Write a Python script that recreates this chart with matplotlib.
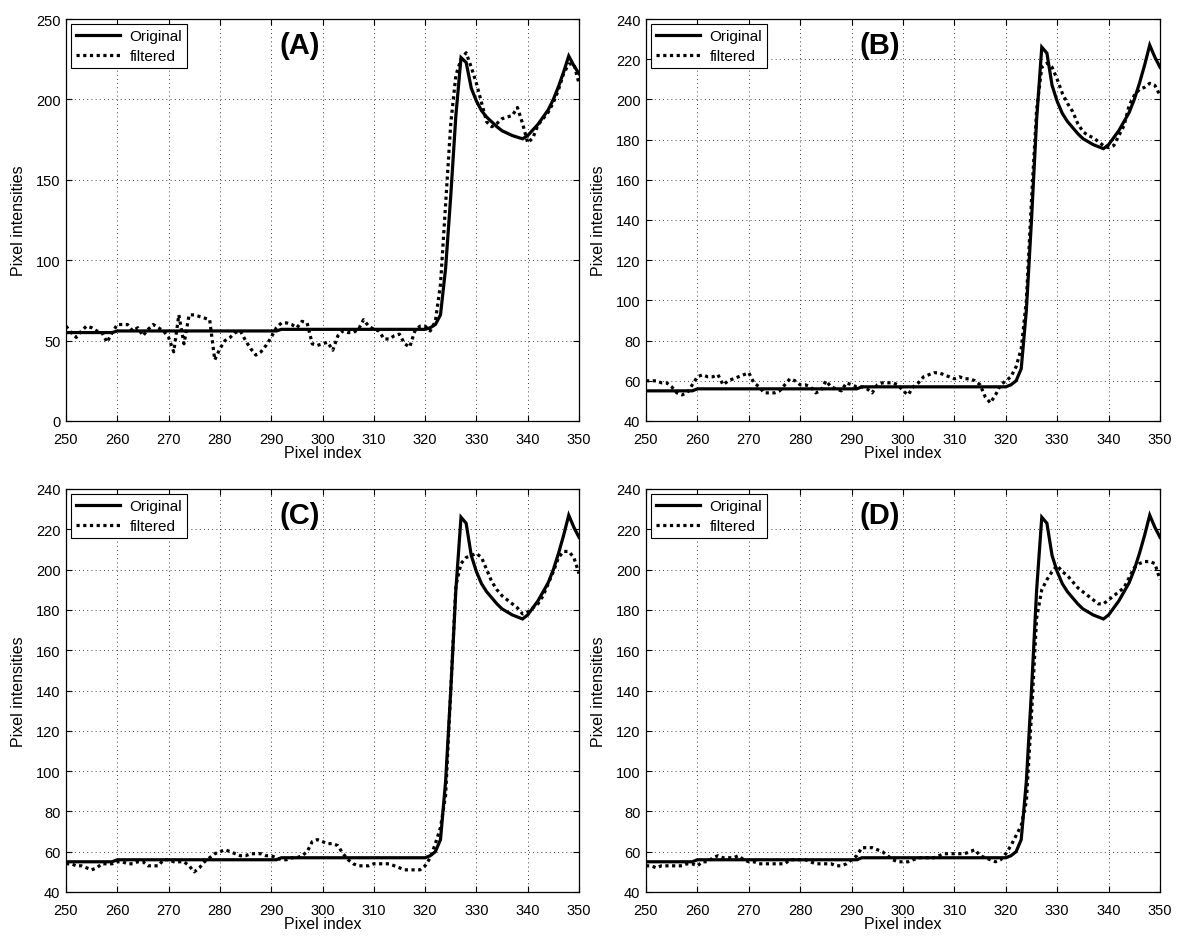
import numpy as np
import matplotlib
matplotlib.use("Agg")
import matplotlib.pyplot as plt

plt.rcParams['font.family'] = ['Liberation Sans', 'DejaVu Sans']

pixel_index = list(range(250, 351))

original = ([55] * 10 + [56] * 32 + [57] * 29 +
            [58, 60, 66, 95, 140, 190, 226, 223, 207, 199, 193, 189, 186, 183,
             180.5, 179, 177.5, 176.5, 175.5, 177.5, 181, 184.5, 189, 193.5,
             200, 208, 217, 227, 221, 216])

filtered_A = [59, 55, 52, 56, 59, 58, 56, 55, 49, 55,
              60, 60, 60, 56, 58, 53, 57, 60, 58, 56,
              52, 43, 66, 48, 66, 66, 65, 64, 63, 38,
              45, 50, 52, 55, 56, 50, 45, 41, 43, 47,
              52, 58, 61, 61, 60, 58, 62, 61, 48, 47,
              48, 49, 44, 53, 56, 55, 55, 57, 63, 59,
              57, 56, 51, 51, 53, 54, 48, 46, 56, 59,
              59, 56, 62, 85, 135, 185, 215, 225, 229, 220,
              210, 198, 186, 183, 185, 188, 189, 190, 195, 185,
              173, 176, 184, 188, 192, 198, 206, 216, 222, 222,
              210]

filtered_B = [60, 60, 60, 59, 59, 57, 54, 53, 54, 58,
              62, 63, 62, 62, 63, 58, 60, 61, 62, 63,
              64, 59, 57, 54, 54, 54, 55, 58, 61, 60,
              58, 58, 57, 54, 55, 60, 57, 56, 55, 59,
              58, 57, 57, 56, 54, 58, 59, 59, 59, 58,
              55, 53, 57, 59, 62, 63, 64, 64, 63, 62,
              61, 62, 61, 61, 60, 58, 52, 49, 53, 58,
              60, 62, 67, 76, 100, 150, 195, 216, 218, 216,
              210, 203, 198, 194, 188, 184, 182, 181, 179, 177,
              176, 177, 182, 187, 197, 202, 205, 206, 208, 207,
              202]

filtered_C = [54, 54, 53, 53, 52, 51, 52, 54, 54, 54,
              55, 55, 54, 54, 55, 55, 53, 53, 53, 56,
              56, 55, 55, 55, 53, 50, 52, 55, 57, 59,
              60, 61, 60, 59, 58, 58, 59, 59, 59, 58,
              58, 57, 56, 56, 57, 57, 58, 60, 65, 66,
              65, 64, 64, 63, 59, 56, 54, 53, 53, 53,
              54, 54, 54, 54, 53, 52, 51, 51, 51, 51,
              53, 57, 64, 72, 88, 140, 192, 203, 206, 207,
              208, 206, 200, 194, 190, 187, 185, 183, 181, 178,
              179, 181, 183, 187, 193, 199, 206, 209, 209, 206,
              198]

filtered_D = [53, 53, 52, 53, 53, 53, 53, 53, 54, 54,
              53, 55, 55, 57, 58, 57, 57, 57, 58, 56,
              55, 55, 54, 54, 54, 54, 54, 54, 56, 56,
              56, 56, 55, 54, 54, 54, 54, 53, 53, 54,
              56, 58, 62, 62, 62, 61, 60, 58, 56, 55,
              55, 55, 56, 57, 57, 57, 57, 58, 59, 59,
              59, 59, 59, 60, 61, 58, 57, 56, 55, 56,
              59, 63, 68, 73, 85, 128, 176, 190, 195, 199,
              202, 199, 197, 194, 191, 189, 187, 185, 183, 183,
              185, 187, 189, 191, 196, 201, 203, 204, 204, 203,
              195]

panel_titles = ['(A)', '(B)', '(C)', '(D)']
filtered_sets = [filtered_A, filtered_B, filtered_C, filtered_D]
y_limits = [(0, 250), (40, 240), (40, 240), (40, 240)]
y_steps = [50, 20, 20, 20]
x_ticks = list(range(250, 351, 10))

W, H = 1182, 937
fig = plt.figure(figsize=(W / 100, H / 100), dpi=100)

# axes boxes in pixels: left, top, right, bottom
boxes = [(66, 20, 579, 422), (646, 20, 1160, 422),
         (66, 490, 579, 893), (646, 490, 1160, 893)]

for i in range(4):
    l, t, r, b = boxes[i]
    ax = fig.add_axes([l / W, 1 - b / H, (r - l) / W, (b - t) / H])
    ax.plot(pixel_index, original, color='black', linewidth=2.3,
            linestyle='-', label='Original', solid_joinstyle='miter')
    ax.plot(pixel_index, filtered_sets[i], color='black', linewidth=2.3,
            linestyle=(0, (1.0, 1.1)), label='filtered')
    ax.set_xlim(250, 350)
    ax.set_ylim(*y_limits[i])
    ax.set_xticks(x_ticks)
    ax.set_yticks(np.arange(y_limits[i][0], y_limits[i][1] + 1, y_steps[i]))
    ax.grid(True, color='black', linestyle=(0, (1, 4)), linewidth=0.6)
    ax.tick_params(direction='in', top=True, right=True, length=4,
                   width=0.8, labelsize=10.5)
    ax.tick_params(axis='x', pad=8)
    ax.tick_params(axis='y', pad=4)
    for s in ax.spines.values():
        s.set_linewidth(0.9)
    ax.set_xlabel('Pixel index', fontsize=11.5, labelpad=-1)
    ax.set_ylabel('Pixel intensities', fontsize=11.5, labelpad=7)
    leg = ax.legend(loc='upper left', fontsize=11, frameon=True,
                    fancybox=False, edgecolor='black', framealpha=1,
                    handlelength=2.9, borderpad=0.35, labelspacing=0.4,
                    borderaxespad=0.3, handletextpad=0.6)
    leg.get_frame().set_linewidth(0.8)
    ax.text(0.455, 0.935, panel_titles[i], transform=ax.transAxes,
            fontsize=21, fontweight='bold', ha='center', va='center')

fig.savefig('out.png', dpi=100, facecolor='white')
